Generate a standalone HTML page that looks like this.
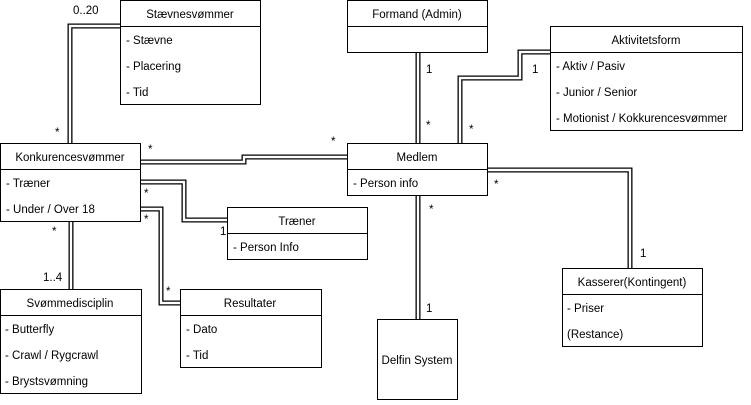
<!DOCTYPE html>
<html><head><meta charset="utf-8"><style>
body{margin:0;background:#fff;width:751px;height:400px;overflow:hidden}
svg text{font-family:"Liberation Sans",Arial,sans-serif;font-size:11.5px;fill:#000}
</style></head><body>
<svg width="751" height="400" viewBox="0 0 751 400" xmlns="http://www.w3.org/2000/svg">
<g fill="none" stroke-linejoin="miter">
<g stroke="#000" stroke-width="5">
<polyline points="120,26 70,26 70,143"/>
<polyline points="140,162 244,162 244,157 347,157"/>
<polyline points="140,182 184,182 184,220 227,220"/>
<polyline points="140,209 161,209 161,303 180,303"/>
<polyline points="71,221 71,289"/>
<polyline points="418,52 418,143"/>
<polyline points="550,52 520,52 520,78 460,78 460,143"/>
<polyline points="487,170 630,170 630,268"/>
<polyline points="418,195 418,319"/>
</g>
<g stroke="#fff" stroke-width="2.4">
<polyline points="120,26 70,26 70,143"/>
<polyline points="140,162 244,162 244,157 347,157"/>
<polyline points="140,182 184,182 184,220 227,220"/>
<polyline points="140,209 161,209 161,303 180,303"/>
<polyline points="71,221 71,289"/>
<polyline points="418,52 418,143"/>
<polyline points="550,52 520,52 520,78 460,78 460,143"/>
<polyline points="487,170 630,170 630,268"/>
<polyline points="418,195 418,319"/>
</g>
</g>
<g fill="#fff" stroke="#000" stroke-width="1">
<rect x="120.5" y="0.5" width="140" height="104"/><line x1="120" y1="26.5" x2="261" y2="26.5"/>
<rect x="347.5" y="0.5" width="140" height="52"/><line x1="347" y1="26.5" x2="488" y2="26.5"/>
<rect x="550.5" y="26.5" width="192" height="104"/><line x1="550" y1="52.5" x2="743" y2="52.5"/>
<rect x="0.5" y="143.5" width="140" height="78"/><line x1="0" y1="169.5" x2="141" y2="169.5"/>
<rect x="347.5" y="143.5" width="140" height="52"/><line x1="347" y1="169.5" x2="488" y2="169.5"/>
<rect x="227.5" y="207.5" width="140" height="52"/><line x1="227" y1="233.5" x2="368" y2="233.5"/>
<rect x="0.5" y="289.5" width="141" height="104"/><line x1="0" y1="315.5" x2="142" y2="315.5"/>
<rect x="180.5" y="289.5" width="141" height="78"/><line x1="180" y1="315.5" x2="322" y2="315.5"/>
<rect x="377.5" y="319.5" width="80" height="80"/>
<rect x="562.5" y="268.5" width="140" height="78"/><line x1="562" y1="294.5" x2="703" y2="294.5"/>
</g>
<g text-anchor="middle">
<text x="190" y="18">Stævnesvømmer</text>
<text x="417" y="18">Formand (Admin)</text>
<text x="646" y="44">Aktivitetsform</text>
<text x="70" y="161">Konkurencesvømmer</text>
<text x="417" y="161">Medlem</text>
<text x="297" y="225">Træner</text>
<text x="70" y="307">Svømmedisciplin</text>
<text x="250" y="307">Resultater</text>
<text x="417" y="364">Delfin System</text>
<text x="632" y="286">Kasserer(Kontingent)</text>
</g>
<g>
<text x="126" y="44">- Stævne</text>
<text x="126" y="70">- Placering</text>
<text x="126" y="96">- Tid</text>
<text x="556" y="70">- Aktiv / Pasiv</text>
<text x="556" y="96">- Junior / Senior</text>
<text x="556" y="122">- Motionist / Kokkurencesvømmer</text>
<text x="6" y="187">- Træner</text>
<text x="6" y="213">- Under / Over 18</text>
<text x="353" y="187">- Person info</text>
<text x="233" y="251">- Person Info</text>
<text x="5" y="333">- Butterfly</text>
<text x="5" y="359">- Crawl / Rygcrawl</text>
<text x="5" y="385">- Brystsvømning</text>
<text x="186" y="333">- Dato</text>
<text x="186" y="359">- Tid</text>
<text x="567" y="312">- Priser</text>
<text x="567" y="338">(Restance)</text>
<text x="73" y="14">0..20</text>
<text x="55" y="136">*</text>
<text x="148" y="153">*</text>
<text x="331" y="145">*</text>
<text x="144" y="197">*</text>
<text x="144" y="223">*</text>
<text x="220" y="235">1</text>
<text x="166" y="295">*</text>
<text x="52" y="235">*</text>
<text x="43" y="281">1..4</text>
<text x="426" y="73">1</text>
<text x="426" y="129">*</text>
<text x="532" y="73">1</text>
<text x="469" y="133">*</text>
<text x="494" y="188">*</text>
<text x="429" y="213">*</text>
<text x="426" y="312">1</text>
<text x="640" y="257">1</text>
</g>
</svg>
</body></html>
